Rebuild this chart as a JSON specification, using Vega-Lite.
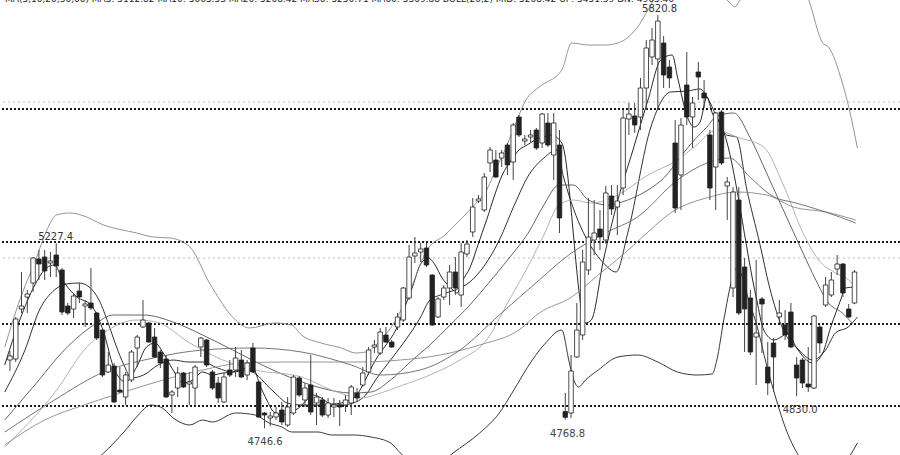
{
"$schema": "https://vega.github.io/schema/vega-lite/v6.json",
"width": 900, "height": 455, "padding": 0,
"autosize": {"type": "none"},
"background": "white",
"config": {"view": {"stroke": null}},
"datasets": {
"levels": [
{"p": 5576.6, "k": "dark"}, {"p": 5230.8, "k": "dark"}, {"p": 5017.6, "k": "dark"}, {"p": 4804.4, "k": "dark"},
{"p": 5594.8, "k": "light"}, {"p": 5189.2, "k": "light"}
],
"candles": [
{"i":0,"o":4924,"c":4934.4,"h":4947.4,"l":4895.4},
{"i":1,"o":4926.6,"c":5030.6,"h":5035.8,"l":4918.8},
{"i":2,"o":5056.6,"c":5064.4,"h":5152.8,"l":5046.2},
{"i":3,"o":5087.8,"c":5095.6,"h":5106,"l":5046.2},
{"i":4,"o":5124.2,"c":5189.2,"h":5191.8,"l":5100.8},
{"i":5,"o":5186.6,"c":5173.6,"h":5210,"l":5132},
{"i":6,"o":5191.8,"c":5155.4,"h":5210,"l":5132},
{"i":7,"o":5176.2,"c":5181.4,"h":5204.8,"l":5139.8},
{"i":8,"o":5197,"c":5168.4,"h":5227.4,"l":5139.8},
{"i":9,"o":5158,"c":5048.8,"h":5163.2,"l":5041},
{"i":10,"o":5064.4,"c":5046.2,"h":5072.2,"l":5041},
{"i":11,"o":5056.6,"c":5090.4,"h":5098.2,"l":5033.2},
{"i":12,"o":5103.4,"c":5087.8,"h":5124.2,"l":5072.2},
{"i":13,"o":5064.4,"c":5069.6,"h":5080,"l":5009.8},
{"i":14,"o":5072.2,"c":5059.2,"h":5163.2,"l":5054},
{"i":15,"o":5046.2,"c":4981.2,"h":5048.8,"l":4976},
{"i":16,"o":5002,"c":4885,"h":5004.6,"l":4879.8},
{"i":17,"o":4892.8,"c":4911,"h":4944.8,"l":4890.2},
{"i":18,"o":4908.4,"c":4814.8,"h":4916.2,"l":4812.2},
{"i":19,"o":4846,"c":4840.8,"h":4905.8,"l":4838.2},
{"i":20,"o":4827.8,"c":4885,"h":4892.8,"l":4807},
{"i":21,"o":4872,"c":4944.8,"h":4950,"l":4866.8},
{"i":22,"o":4955.2,"c":4983.8,"h":4989,"l":4905.8},
{"i":23,"o":5009.8,"c":5028,"h":5080,"l":5007.2},
{"i":24,"o":5020.2,"c":4970.8,"h":5022.8,"l":4968.2},
{"i":25,"o":4983.8,"c":4931.8,"h":5007.2,"l":4929.2},
{"i":26,"o":4944.8,"c":4916.2,"h":4950,"l":4903.2},
{"i":27,"o":4926.6,"c":4827.8,"h":4937,"l":4825.2},
{"i":28,"o":4833,"c":4840.8,"h":4846,"l":4786.2},
{"i":29,"o":4851.2,"c":4890.2,"h":4905.8,"l":4827.8},
{"i":30,"o":4890.2,"c":4853.8,"h":4892.8,"l":4851.2},
{"i":31,"o":4861.6,"c":4866.8,"h":4892.8,"l":4807},
{"i":32,"o":4851.2,"c":4905.8,"h":4911,"l":4807},
{"i":33,"o":4957.8,"c":4981.2,"h":4983.8,"l":4931.8},
{"i":34,"o":4976,"c":4911,"h":4978.6,"l":4905.8},
{"i":35,"o":4892.8,"c":4851.2,"h":4898,"l":4846},
{"i":36,"o":4864.2,"c":4825.2,"h":4879.8,"l":4812.2},
{"i":37,"o":4814.8,"c":4879.8,"h":4890.2,"l":4812.2},
{"i":38,"o":4898,"c":4885,"h":4924,"l":4879.8},
{"i":39,"o":4898,"c":4929.2,"h":4957.8,"l":4879.8},
{"i":40,"o":4924,"c":4879.8,"h":4950,"l":4877.2},
{"i":41,"o":4885,"c":4916.2,"h":4924,"l":4872},
{"i":42,"o":4955.2,"c":4892.8,"h":4968.2,"l":4890.2},
{"i":43,"o":4866.8,"c":4775.8,"h":4872,"l":4774},
{"i":44,"o":4786.2,"c":4781,"h":4788.8,"l":4746.6},
{"i":45,"o":4773.2,"c":4778.4,"h":4788.8,"l":4752},
{"i":46,"o":4775.8,"c":4786.2,"h":4801.8,"l":4768},
{"i":47,"o":4794,"c":4762.8,"h":4814.8,"l":4755},
{"i":48,"o":4755,"c":4801.8,"h":4827.8,"l":4750},
{"i":49,"o":4786.2,"c":4879.8,"h":4885,"l":4781},
{"i":50,"o":4877.2,"c":4833,"h":4882.4,"l":4827.8},
{"i":51,"o":4820,"c":4851.2,"h":4864.2,"l":4801.8},
{"i":52,"o":4859,"c":4788.8,"h":4937,"l":4781},
{"i":53,"o":4812.2,"c":4827.8,"h":4838.2,"l":4755},
{"i":54,"o":4820,"c":4781,"h":4827.8,"l":4775.8},
{"i":55,"o":4781,"c":4812.2,"h":4825.2,"l":4773.2},
{"i":56,"o":4801.8,"c":4807,"h":4825.2,"l":4775.8},
{"i":57,"o":4807,"c":4801.8,"h":4820,"l":4752.4},
{"i":58,"o":4807,"c":4820,"h":4833,"l":4788.8},
{"i":59,"o":4812.2,"c":4853.8,"h":4859,"l":4781},
{"i":60,"o":4838.2,"c":4825.2,"h":4851.2,"l":4814.8},
{"i":61,"o":4859,"c":4890.2,"h":4905.8,"l":4853.8},
{"i":62,"o":4892.8,"c":4950,"h":4957.8,"l":4885},
{"i":63,"o":4957.8,"c":4963,"h":4976,"l":4942.2},
{"i":64,"o":4942.2,"c":4996.8,"h":5007.2,"l":4937},
{"i":65,"o":4989,"c":4970.8,"h":5009.8,"l":4968.2},
{"i":66,"o":4970.8,"c":4957.8,"h":4976,"l":4955.2},
{"i":67,"o":5009.8,"c":5035.8,"h":5046.2,"l":5002},
{"i":68,"o":5028,"c":5111.2,"h":5113.8,"l":5022.8},
{"i":69,"o":5085.2,"c":5191.8,"h":5223,"l":5080},
{"i":70,"o":5194.4,"c":5202.2,"h":5243.8,"l":5176.2},
{"i":71,"o":5204.8,"c":5212.6,"h":5228.2,"l":5178.8},
{"i":72,"o":5215.2,"c":5171,"h":5228.2,"l":5165.8},
{"i":73,"o":5145,"c":5015,"h":5147,"l":5012.4},
{"i":74,"o":5035.8,"c":5082.6,"h":5087.8,"l":5033.2},
{"i":75,"o":5087.8,"c":5111.2,"h":5119,"l":5080},
{"i":76,"o":5111.2,"c":5152.8,"h":5171,"l":5067},
{"i":77,"o":5152.8,"c":5111.2,"h":5191.8,"l":5093},
{"i":78,"o":5093,"c":5204.8,"h":5228.2,"l":5061.8},
{"i":79,"o":5199.6,"c":5225.6,"h":5236,"l":5191.8},
{"i":80,"o":5256.8,"c":5321.8,"h":5345.2,"l":5243.8},
{"i":81,"o":5337.4,"c":5342.6,"h":5353,"l":5332.2},
{"i":82,"o":5314,"c":5399.8,"h":5410.2,"l":5308.8},
{"i":83,"o":5436.2,"c":5470,"h":5477.8,"l":5412.8},
{"i":84,"o":5444,"c":5399.8,"h":5470,"l":5397.2},
{"i":85,"o":5449.2,"c":5462.2,"h":5470,"l":5425.8},
{"i":86,"o":5483,"c":5431,"h":5488.2,"l":5405},
{"i":87,"o":5438.8,"c":5535,"h":5540.2,"l":5392},
{"i":88,"o":5555.8,"c":5509,"h":5561,"l":5503.8},
{"i":89,"o":5493.4,"c":5498.6,"h":5509,"l":5483},
{"i":90,"o":5503.8,"c":5509,"h":5522,"l":5490.8},
{"i":91,"o":5522,"c":5475.2,"h":5527.2,"l":5470},
{"i":92,"o":5488.2,"c":5563.6,"h":5566.2,"l":5475.2},
{"i":93,"o":5540.2,"c":5483,"h":5566.2,"l":5477.8},
{"i":94,"o":5457,"c":5540.2,"h":5566.2,"l":5392},
{"i":95,"o":5483,"c":5293.2,"h":5522,"l":5254.2},
{"i":96,"o":4790,"c":4775,"h":4838.2,"l":4768.8},
{"i":97,"o":4786.2,"c":4895.4,"h":4937,"l":4773.2},
{"i":98,"o":4931.8,"c":5002,"h":5072.2,"l":4929.2},
{"i":99,"o":4989,"c":5178.8,"h":5210,"l":4976},
{"i":100,"o":5158,"c":5243.8,"h":5345.2,"l":5145},
{"i":101,"o":5236,"c":5254.2,"h":5340,"l":5197},
{"i":102,"o":5264.6,"c":5243.8,"h":5314,"l":5210},
{"i":103,"o":5236,"c":5358.2,"h":5376.4,"l":5225.6},
{"i":104,"o":5350.4,"c":5316.6,"h":5379,"l":5301},
{"i":105,"o":5321.8,"c":5337.4,"h":5379,"l":5249},
{"i":106,"o":5371.2,"c":5553.2,"h":5574,"l":5353},
{"i":107,"o":5550.6,"c":5563.6,"h":5592.2,"l":5509},
{"i":108,"o":5558.4,"c":5535,"h":5592.2,"l":5514.2},
{"i":109,"o":5555.8,"c":5631.2,"h":5657.2,"l":5522},
{"i":110,"o":5631.2,"c":5735.2,"h":5756,"l":5574},
{"i":111,"o":5711.8,"c":5756,"h":5787.2,"l":5691},
{"i":112,"o":5706.6,"c":5805.4,"h":5820.8,"l":5574},
{"i":113,"o":5748.2,"c":5665,"h":5766.4,"l":5631.2},
{"i":114,"o":5685.8,"c":5657.2,"h":5704,"l":5631.2},
{"i":115,"o":5488.2,"c":5319.2,"h":5548,"l":5306.2},
{"i":116,"o":5405,"c":5535,"h":5553.2,"l":5314},
{"i":117,"o":5639,"c":5555.8,"h":5724.8,"l":5535},
{"i":118,"o":5555.8,"c":5592.2,"h":5607.8,"l":5475.2},
{"i":119,"o":5672.8,"c":5659.8,"h":5698.8,"l":5600},
{"i":120,"o":5618.2,"c":5605.2,"h":5652,"l":5579.2},
{"i":121,"o":5509,"c":5371.2,"h":5522,"l":5340},
{"i":122,"o":5425.8,"c":5566.2,"h":5568.8,"l":5314},
{"i":123,"o":5568.8,"c":5436.2,"h":5574,"l":5431},
{"i":124,"o":5376.4,"c":5386.8,"h":5399.8,"l":5288},
{"i":125,"o":5111.2,"c":5360.8,"h":5373.8,"l":5087.8},
{"i":126,"o":5340,"c":5046.2,"h":5373.8,"l":5041},
{"i":127,"o":5165.8,"c":5056.6,"h":5189.2,"l":4944.8},
{"i":128,"o":5085.2,"c":4944.8,"h":5106,"l":4937},
{"i":129,"o":4983.8,"c":4994.2,"h":5184,"l":4859},
{"i":130,"o":5082.6,"c":5069.6,"h":5087.8,"l":4942.2},
{"i":131,"o":4905.8,"c":4864.2,"h":4970.8,"l":4833},
{"i":132,"o":4968.2,"c":4931.8,"h":4981.2,"l":4840.8},
{"i":133,"o":5035.8,"c":5046.2,"h":5080,"l":5020.2},
{"i":134,"o":5015,"c":4989,"h":5054,"l":4976},
{"i":135,"o":5048.8,"c":4957.8,"h":5072.2,"l":4955.2},
{"i":136,"o":4911,"c":4877.2,"h":4931.8,"l":4830},
{"i":137,"o":4924,"c":4864.2,"h":4929.2,"l":4851.2},
{"i":138,"o":4861.6,"c":4853.8,"h":4957.8,"l":4840.8},
{"i":139,"o":4851.2,"c":5038.4,"h":5041,"l":4848.6},
{"i":140,"o":5009.8,"c":4968.2,"h":5015,"l":4942.2},
{"i":141,"o":5067,"c":5119,"h":5139.8,"l":5061.8},
{"i":142,"o":5093,"c":5132,"h":5152.8,"l":5087.8},
{"i":143,"o":5160.6,"c":5173.6,"h":5197,"l":5145},
{"i":144,"o":5173.6,"c":5098.2,"h":5176.2,"l":5087.8},
{"i":145,"o":5056.6,"c":5035.8,"h":5069.6,"l":5033.2},
{"i":146,"o":5072.2,"c":5152.8,"h":5158,"l":5069.6}
],
"lines": [
{"s":"MA5","i":-0.9,"p":4911},{"s":"MA5","i":1.7,"p":5028},{"s":"MA5","i":4.3,"p":5119},{"s":"MA5","i":6.3,"p":5163.2},{"s":"MA5","i":7.7,"p":5171},{"s":"MA5","i":9.1,"p":5132},{"s":"MA5","i":11.6,"p":5087.8},{"s":"MA5","i":14.0,"p":5067},{"s":"MA5","i":16.2,"p":4996.8},{"s":"MA5","i":17.9,"p":4905.8},{"s":"MA5","i":20.0,"p":4866.8},{"s":"MA5","i":21.9,"p":4905.8},{"s":"MA5","i":23.6,"p":4957.8},{"s":"MA5","i":25.1,"p":4968.2},{"s":"MA5","i":26.5,"p":4942.2},{"s":"MA5","i":28.2,"p":4898},{"s":"MA5","i":29.9,"p":4864.2},{"s":"MA5","i":31.6,"p":4872},{"s":"MA5","i":33.3,"p":4892.8},{"s":"MA5","i":35.0,"p":4885},{"s":"MA5","i":36.8,"p":4890.2},{"s":"MA5","i":38.5,"p":4892.8},{"s":"MA5","i":41.0,"p":4903.2},{"s":"MA5","i":42.2,"p":4898},{"s":"MA5","i":43.2,"p":4859},{"s":"MA5","i":44.4,"p":4820},{"s":"MA5","i":45.6,"p":4788.8},{"s":"MA5","i":47.0,"p":4781},{"s":"MA5","i":48.7,"p":4788.8},{"s":"MA5","i":49.9,"p":4799.2},{"s":"MA5","i":51.3,"p":4820},{"s":"MA5","i":52.5,"p":4833},{"s":"MA5","i":53.8,"p":4825.2},{"s":"MA5","i":55.6,"p":4809.6},{"s":"MA5","i":57.3,"p":4812.2},{"s":"MA5","i":58.6,"p":4820},{"s":"MA5","i":59.8,"p":4830.4},{"s":"MA5","i":61.0,"p":4859},{"s":"MA5","i":62.1,"p":4892.8},{"s":"MA5","i":63.2,"p":4924},{"s":"MA5","i":65.0,"p":4963},{"s":"MA5","i":66.7,"p":5002},{"s":"MA5","i":68.4,"p":5067},{"s":"MA5","i":69.7,"p":5119},{"s":"MA5","i":70.9,"p":5171},{"s":"MA5","i":72.3,"p":5189.2},{"s":"MA5","i":73.5,"p":5171},{"s":"MA5","i":74.7,"p":5137.2},{"s":"MA5","i":76.1,"p":5113.8},{"s":"MA5","i":77.3,"p":5098.2},{"s":"MA5","i":78.3,"p":5132},{"s":"MA5","i":79.5,"p":5163.2},{"s":"MA5","i":80.9,"p":5223},{"s":"MA5","i":82.4,"p":5288},{"s":"MA5","i":83.8,"p":5353},{"s":"MA5","i":85.1,"p":5405},{"s":"MA5","i":86.7,"p":5444},{"s":"MA5","i":88.0,"p":5470},{"s":"MA5","i":89.4,"p":5483},{"s":"MA5","i":90.8,"p":5496},{"s":"MA5","i":92.3,"p":5503.8},{"s":"MA5","i":93.5,"p":5509},{"s":"MA5","i":95.4,"p":5488.2},{"s":"MA5","i":99.5,"p":5020.2},{"s":"MA5","i":100.5,"p":5028},{"s":"MA5","i":102.6,"p":5184},{"s":"MA5","i":105.1,"p":5340},{"s":"MA5","i":107.7,"p":5470},{"s":"MA5","i":110.3,"p":5600},{"s":"MA5","i":112.5,"p":5704},{"s":"MA5","i":114.5,"p":5717},{"s":"MA5","i":115.4,"p":5659.8},{"s":"MA5","i":117.1,"p":5555.8},{"s":"MA5","i":118.3,"p":5529.8},{"s":"MA5","i":119.3,"p":5542.8},{"s":"MA5","i":120.5,"p":5607.8},{"s":"MA5","i":121.4,"p":5566.2},{"s":"MA5","i":122.7,"p":5542.8},{"s":"MA5","i":123.4,"p":5516.8},{"s":"MA5","i":129.1,"p":5080},{"s":"MA5","i":130.3,"p":5002},{"s":"MA5","i":132.1,"p":4976},{"s":"MA5","i":133.3,"p":4983.8},{"s":"MA5","i":134.5,"p":4994.2},{"s":"MA5","i":135.9,"p":4957.8},{"s":"MA5","i":138.8,"p":4916.2},{"s":"MA5","i":140.5,"p":4942.2},{"s":"MA5","i":141.9,"p":5009.8},{"s":"MA5","i":143.6,"p":5080},{"s":"MA5","i":144.4,"p":5111.2},{"s":"MA5","i":146.2,"p":5113.8},
{"s":"MA10","i":-0.9,"p":4840.8},{"s":"MA10","i":2.6,"p":4950},{"s":"MA10","i":5.1,"p":5054},{"s":"MA10","i":7.7,"p":5106},{"s":"MA10","i":9.7,"p":5121.6},{"s":"MA10","i":12.0,"p":5124.2},{"s":"MA10","i":13.7,"p":5113.8},{"s":"MA10","i":15.4,"p":5080},{"s":"MA10","i":17.1,"p":5015},{"s":"MA10","i":18.3,"p":4963},{"s":"MA10","i":19.7,"p":4911},{"s":"MA10","i":21.0,"p":4877.2},{"s":"MA10","i":23.1,"p":4885},{"s":"MA10","i":25.6,"p":4911},{"s":"MA10","i":28.2,"p":4924},{"s":"MA10","i":30.8,"p":4918.8},{"s":"MA10","i":33.3,"p":4918.8},{"s":"MA10","i":35.9,"p":4903.2},{"s":"MA10","i":38.5,"p":4892.8},{"s":"MA10","i":41.0,"p":4898},{"s":"MA10","i":42.7,"p":4885},{"s":"MA10","i":44.4,"p":4859},{"s":"MA10","i":46.2,"p":4833},{"s":"MA10","i":47.9,"p":4812.2},{"s":"MA10","i":50.4,"p":4807},{"s":"MA10","i":53.8,"p":4807},{"s":"MA10","i":57.3,"p":4807},{"s":"MA10","i":59.8,"p":4814.8},{"s":"MA10","i":61.5,"p":4833},{"s":"MA10","i":63.2,"p":4872},{"s":"MA10","i":65.8,"p":4924},{"s":"MA10","i":68.4,"p":4976},{"s":"MA10","i":70.9,"p":5033.2},{"s":"MA10","i":72.6,"p":5080},{"s":"MA10","i":74.4,"p":5093},{"s":"MA10","i":76.9,"p":5106},{"s":"MA10","i":79.5,"p":5126.8},{"s":"MA10","i":82.1,"p":5171},{"s":"MA10","i":84.6,"p":5236},{"s":"MA10","i":87.2,"p":5327},{"s":"MA10","i":89.7,"p":5405},{"s":"MA10","i":92.3,"p":5449.2},{"s":"MA10","i":94.5,"p":5470},{"s":"MA10","i":95.7,"p":5399.8},{"s":"MA10","i":102.6,"p":5176.2},{"s":"MA10","i":104.8,"p":5152.8},{"s":"MA10","i":106.8,"p":5254.2},{"s":"MA10","i":110.8,"p":5529.8},{"s":"MA10","i":114.2,"p":5620.8},{"s":"MA10","i":117.1,"p":5623.4},{"s":"MA10","i":119.3,"p":5628.6},{"s":"MA10","i":120.5,"p":5607.8},{"s":"MA10","i":122.2,"p":5555.8},{"s":"MA10","i":123.9,"p":5509},{"s":"MA10","i":125.6,"p":5503.8},{"s":"MA10","i":127.4,"p":5366},{"s":"MA10","i":129.6,"p":5228.2},{"s":"MA10","i":131.3,"p":5113.8},{"s":"MA10","i":133.7,"p":5002},{"s":"MA10","i":136.4,"p":4950},{"s":"MA10","i":138.8,"p":4924},{"s":"MA10","i":141.0,"p":4950},{"s":"MA10","i":142.7,"p":4994.2},{"s":"MA10","i":144.9,"p":5009.8},{"s":"MA10","i":146.5,"p":5035.8},
{"s":"UB","i":-0.9,"p":4957.8},{"s":"UB","i":1.7,"p":5080},{"s":"UB","i":4.3,"p":5178.8},{"s":"UB","i":6.8,"p":5275},{"s":"UB","i":8.0,"p":5301},{"s":"UB","i":10.3,"p":5306.2},{"s":"UB","i":12.3,"p":5301},{"s":"UB","i":16.2,"p":5275},{"s":"UB","i":21.9,"p":5254.2},{"s":"UB","i":24.8,"p":5243.8},{"s":"UB","i":27.7,"p":5241.2},{"s":"UB","i":31.1,"p":5217.8},{"s":"UB","i":34.5,"p":5124.2},{"s":"UB","i":39.0,"p":5028},{"s":"UB","i":41.4,"p":5007.2},{"s":"UB","i":45.8,"p":5020.2},{"s":"UB","i":48.7,"p":5015},{"s":"UB","i":50.4,"p":4989},{"s":"UB","i":53.8,"p":4968.2},{"s":"UB","i":57.3,"p":4955.2},{"s":"UB","i":59.8,"p":4942.2},{"s":"UB","i":61.5,"p":4944.8},{"s":"UB","i":64.1,"p":4976},{"s":"UB","i":66.7,"p":5028},{"s":"UB","i":69.2,"p":5106},{"s":"UB","i":72.1,"p":5210},{"s":"UB","i":75.2,"p":5249},{"s":"UB","i":77.8,"p":5288},{"s":"UB","i":80.3,"p":5327},{"s":"UB","i":82.4,"p":5366},{"s":"UB","i":84.1,"p":5423.2},{"s":"UB","i":85.8,"p":5477.8},{"s":"UB","i":87.5,"p":5542.8},{"s":"UB","i":89.2,"p":5600},{"s":"UB","i":91.5,"p":5633.8},{"s":"UB","i":95.4,"p":5678},{"s":"UB","i":97.1,"p":5748.2},{"s":"UB","i":100.0,"p":5743},{"s":"UB","i":102.9,"p":5743},{"s":"UB","i":105.1,"p":5748.2},{"s":"UB","i":108.5,"p":5789.8},{"s":"UB","i":110.3,"p":5834},{"s":"UB","i":112.3,"p":5886},{"s":"UB","i":117.1,"p":5951},{"s":"UB","i":121.4,"p":5899},{"s":"UB","i":124.5,"p":5852.2},{"s":"UB","i":125.3,"p":5841.8},{"s":"UB","i":126.0,"p":5854.8},{"s":"UB","i":130.8,"p":5964},{"s":"UB","i":135.9,"p":5938},{"s":"UB","i":138.1,"p":5860},{"s":"UB","i":140.5,"p":5748.2},{"s":"UB","i":141.5,"p":5737.8},{"s":"UB","i":143.9,"p":5644.2},{"s":"UB","i":145.0,"p":5581.8},{"s":"UB","i":146.5,"p":5475.2},
{"s":"LB","i":9.4,"p":4612},{"s":"LB","i":16.2,"p":4682.2},{"s":"LB","i":19.7,"p":4736.8},{"s":"LB","i":22.2,"p":4781},{"s":"LB","i":24.3,"p":4807},{"s":"LB","i":26.0,"p":4801.8},{"s":"LB","i":28.7,"p":4768},{"s":"LB","i":31.1,"p":4755},{"s":"LB","i":33.3,"p":4768},{"s":"LB","i":35.0,"p":4762.8},{"s":"LB","i":39.0,"p":4786.2},{"s":"LB","i":42.4,"p":4781},{"s":"LB","i":44.8,"p":4760.2},{"s":"LB","i":47.0,"p":4749.8},{"s":"LB","i":48.7,"p":4736.8},{"s":"LB","i":53.3,"p":4736.8},{"s":"LB","i":55.6,"p":4729},{"s":"LB","i":59.5,"p":4729},{"s":"LB","i":62.4,"p":4723.8},{"s":"LB","i":65.8,"p":4708.2},{"s":"LB","i":67.5,"p":4682.2},{"s":"LB","i":71.8,"p":4625},{"s":"LB","i":76.6,"p":4682.2},{"s":"LB","i":81.2,"p":4734.2},{"s":"LB","i":84.6,"p":4786.2},{"s":"LB","i":86.8,"p":4838.2},{"s":"LB","i":90.3,"p":4924},{"s":"LB","i":92.6,"p":4968.2},{"s":"LB","i":95.4,"p":5002},{"s":"LB","i":96.6,"p":4924},{"s":"LB","i":97.3,"p":4879.8},{"s":"LB","i":98.3,"p":4853.8},{"s":"LB","i":99.5,"p":4872},{"s":"LB","i":101.7,"p":4898},{"s":"LB","i":105.1,"p":4931.8},{"s":"LB","i":108.5,"p":4937},{"s":"LB","i":112.0,"p":4918.8},{"s":"LB","i":115.4,"p":4892.8},{"s":"LB","i":118.8,"p":4885},{"s":"LB","i":121.4,"p":4887.6},{"s":"LB","i":122.2,"p":4924},{"s":"LB","i":123.4,"p":5028},{"s":"LB","i":124.8,"p":5132},{"s":"LB","i":125.6,"p":5163.2},{"s":"LB","i":126.5,"p":5145},{"s":"LB","i":127.7,"p":5080},{"s":"LB","i":129.1,"p":5015},{"s":"LB","i":130.8,"p":4911},{"s":"LB","i":132.5,"p":4820},{"s":"LB","i":134.2,"p":4742},{"s":"LB","i":136.8,"p":4664},{"s":"LB","i":141.0,"p":4599},{"s":"LB","i":145.3,"p":4677},{"s":"LB","i":146.5,"p":4708.2},
{"s":"T1","i":-0.9,"p":4768},{"s":"T1","i":4.3,"p":4859},{"s":"T1","i":9.4,"p":4950},{"s":"T1","i":14.5,"p":5015},{"s":"T1","i":17.9,"p":5041},{"s":"T1","i":23.1,"p":5041},{"s":"T1","i":28.2,"p":5022.8},{"s":"T1","i":33.3,"p":4989},{"s":"T1","i":38.5,"p":4950},{"s":"T1","i":43.6,"p":4911},{"s":"T1","i":48.7,"p":4877.2},{"s":"T1","i":53.8,"p":4851.2},{"s":"T1","i":59.0,"p":4838.2},{"s":"T1","i":62.4,"p":4840.8},{"s":"T1","i":65.8,"p":4872},{"s":"T1","i":69.2,"p":4918.8},{"s":"T1","i":72.6,"p":4963},{"s":"T1","i":76.1,"p":5015},{"s":"T1","i":79.5,"p":5067},{"s":"T1","i":82.9,"p":5126.8},{"s":"T1","i":86.3,"p":5189.2},{"s":"T1","i":89.7,"p":5256.8},{"s":"T1","i":92.3,"p":5327},{"s":"T1","i":94.9,"p":5379},{"s":"T1","i":97.4,"p":5379},{"s":"T1","i":100.0,"p":5340},{"s":"T1","i":103.4,"p":5327},{"s":"T1","i":106.8,"p":5340},{"s":"T1","i":110.3,"p":5366},{"s":"T1","i":113.2,"p":5399.8},{"s":"T1","i":115.9,"p":5451.8},{"s":"T1","i":118.3,"p":5496},{"s":"T1","i":120.5,"p":5529.8},{"s":"T1","i":122.2,"p":5558.4},{"s":"T1","i":125.1,"p":5566.2},{"s":"T1","i":127.9,"p":5503.8},{"s":"T1","i":130.8,"p":5410.2},{"s":"T1","i":133.7,"p":5314},{"s":"T1","i":137.1,"p":5202.2},{"s":"T1","i":139.3,"p":5132},{"s":"T1","i":141.5,"p":5072.2},{"s":"T1","i":143.9,"p":5046.2},{"s":"T1","i":145.6,"p":5020.2},
{"s":"T2","i":-0.9,"p":4697.8},{"s":"T2","i":7.7,"p":4838.2},{"s":"T2","i":13.3,"p":4957.8},{"s":"T2","i":16.2,"p":4994.2},{"s":"T2","i":21.9,"p":5028},{"s":"T2","i":25.3,"p":5022.8},{"s":"T2","i":31.1,"p":4968.2},{"s":"T2","i":36.8,"p":4924},{"s":"T2","i":42.4,"p":4898},{"s":"T2","i":50.4,"p":4879.8},{"s":"T2","i":55.6,"p":4846},{"s":"T2","i":60.7,"p":4825.2},{"s":"T2","i":64.1,"p":4838.2},{"s":"T2","i":67.5,"p":4856.4},{"s":"T2","i":72.6,"p":4885},{"s":"T2","i":77.8,"p":4924},{"s":"T2","i":82.4,"p":4976},{"s":"T2","i":86.3,"p":5080},{"s":"T2","i":89.7,"p":5171},{"s":"T2","i":92.3,"p":5249},{"s":"T2","i":94.9,"p":5327},{"s":"T2","i":97.4,"p":5340},{"s":"T2","i":100.5,"p":5332.2},{"s":"T2","i":105.1,"p":5353},{"s":"T2","i":110.3,"p":5405},{"s":"T2","i":115.4,"p":5444},{"s":"T2","i":118.3,"p":5477.8},{"s":"T2","i":122.2,"p":5522},{"s":"T2","i":125.6,"p":5503.8},{"s":"T2","i":130.3,"p":5477.8},{"s":"T2","i":133.7,"p":5379},{"s":"T2","i":137.1,"p":5254.2},{"s":"T2","i":139.8,"p":5184},{"s":"T2","i":142.7,"p":5150.2},{"s":"T2","i":145.0,"p":5132},{"s":"T2","i":146.2,"p":5113.8},
{"s":"T3","i":-0.9,"p":4703},{"s":"T3","i":6.0,"p":4768},{"s":"T3","i":12.8,"p":4807},{"s":"T3","i":19.7,"p":4840.8},{"s":"T3","i":26.5,"p":4872},{"s":"T3","i":33.3,"p":4898},{"s":"T3","i":40.2,"p":4916.2},{"s":"T3","i":47.0,"p":4918.8},{"s":"T3","i":53.8,"p":4918.8},{"s":"T3","i":60.7,"p":4918.8},{"s":"T3","i":67.5,"p":4924},{"s":"T3","i":74.4,"p":4937},{"s":"T3","i":81.2,"p":4963},{"s":"T3","i":88.0,"p":5002},{"s":"T3","i":91.5,"p":5046.2},{"s":"T3","i":97.1,"p":5087.8},{"s":"T3","i":101.7,"p":5145},{"s":"T3","i":106.3,"p":5202.2},{"s":"T3","i":110.3,"p":5256.8},{"s":"T3","i":114.2,"p":5306.2},{"s":"T3","i":121.0,"p":5347.8},{"s":"T3","i":125.6,"p":5360.8},{"s":"T3","i":130.8,"p":5353},{"s":"T3","i":135.4,"p":5321.8},{"s":"T3","i":141.0,"p":5308.8},{"s":"T3","i":146.2,"p":5288},
{"s":"T4","i":-0.9,"p":4736.8},{"s":"T4","i":7.7,"p":4820},{"s":"T4","i":16.2,"p":4892.8},{"s":"T4","i":24.8,"p":4929.2},{"s":"T4","i":33.3,"p":4950},{"s":"T4","i":41.9,"p":4955.2},{"s":"T4","i":50.4,"p":4944.8},{"s":"T4","i":59.0,"p":4911},{"s":"T4","i":64.1,"p":4885},{"s":"T4","i":70.9,"p":4898},{"s":"T4","i":77.8,"p":4950},{"s":"T4","i":84.6,"p":5041},{"s":"T4","i":91.5,"p":5132},{"s":"T4","i":96.6,"p":5197},{"s":"T4","i":102.9,"p":5254.2},{"s":"T4","i":108.5,"p":5295.8},{"s":"T4","i":115.4,"p":5392},{"s":"T4","i":120.5,"p":5436.2},{"s":"T4","i":124.4,"p":5449.2},{"s":"T4","i":127.9,"p":5399.8},{"s":"T4","i":132.1,"p":5347.8},{"s":"T4","i":135.9,"p":5332.2},{"s":"T4","i":141.0,"p":5308.8},{"s":"T4","i":146.2,"p":5280.2}
],
"labels": [
{"i":112.3,"p":5820.8,"t":"5820.8","k":"high"},
{"i":7.9,"p":5227.4,"t":"5227.4","k":"high"},
{"i":44.1,"p":4746.6,"t":"4746.6","k":"low"},
{"i":96.4,"p":4768.8,"t":"4768.8","k":"low"},
{"i":136.6,"p":4830.0,"t":"4830.0","k":"low"},
{"i":-0.85,"p":5860,"t":"MA(5,10,20,30,60)  MA5: 5112.82  MA10: 5065.53  MA20: 5208.42  MA30: 5250.71  MA60: 5309.88  BOLL(20,2)  MID: 5208.42  UP: 5451.39  DN: 4965.46","k":"legend"}
]
},
"layer": [
{"data": {"name": "levels"}, "transform": [{"filter": "datum.k == 'light'"}],
 "mark": {"type": "rule", "stroke": "#bbbbbb", "strokeWidth": 1, "strokeDash": [2, 3]},
 "encoding": {"y": {"field": "p", "type": "quantitative", "scale": {"domain": [4677, 5860], "nice": false, "zero": false}, "axis": null}}},
{"data": {"name": "levels"}, "transform": [{"filter": "datum.k == 'dark'"}],
 "mark": {"type": "rule", "stroke": "#1a1a1a", "strokeWidth": 2.2, "strokeDash": [2, 2]},
 "encoding": {"y": {"field": "p", "type": "quantitative", "scale": {"domain": [4677, 5860], "nice": false, "zero": false}, "axis": null}}},
{"data": {"name": "lines"},
 "mark": {"type": "line", "clip": true, "interpolate": "monotone"},
 "encoding": {
  "x": {"field": "i", "type": "quantitative", "scale": {"domain": [-0.855, 153], "nice": false, "zero": false}, "axis": null},
  "y": {"field": "p", "type": "quantitative", "scale": {"domain": [4677, 5860], "nice": false, "zero": false}, "axis": null},
  "color": {"field": "s", "type": "nominal", "legend": null, "scale": {"domain": ["T2", "T3", "T4", "T1", "UB", "LB", "MA10", "MA5"], "range": ["#aaaaaa", "#8a8a8a", "#666666", "#555555", "#888888", "#222222", "#1a1a1a", "#111111"]}},
  "strokeWidth": {"field": "s", "type": "nominal", "legend": null, "scale": {"domain": ["T2", "T3", "T4", "T1", "UB", "LB", "MA10", "MA5"], "range": [0.9, 0.9, 0.9, 0.9, 0.9, 1.1, 1.5, 1.6]}}
 }},
{"data": {"name": "candles"},
 "mark": {"type": "rule", "stroke": "#444444", "strokeWidth": 1},
 "encoding": {
  "x": {"field": "i", "type": "quantitative", "scale": {"domain": [-0.855, 153], "nice": false, "zero": false}, "axis": null},
  "y": {"field": "l", "type": "quantitative", "scale": {"domain": [4677, 5860], "nice": false, "zero": false}, "axis": null},
  "y2": {"field": "h"}
 }},
{"data": {"name": "candles"},
 "mark": {"type": "bar", "size": 4.5, "stroke": "#222222", "strokeWidth": 0.8},
 "encoding": {
  "x": {"field": "i", "type": "quantitative", "scale": {"domain": [-0.855, 153], "nice": false, "zero": false}, "axis": null},
  "y": {"field": "o", "type": "quantitative", "scale": {"domain": [4677, 5860], "nice": false, "zero": false}, "axis": null},
  "y2": {"field": "c"},
  "fill": {"condition": {"test": "datum.c >= datum.o", "value": "#ffffff"}, "value": "#222222"}
 }},
{"data": {"name": "labels"}, "transform": [{"filter": "datum.k == 'high'"}],
 "mark": {"type": "text", "font": "DejaVu Sans", "fontSize": 10, "baseline": "bottom", "align": "center", "dy": -1, "color": "#333333"},
 "encoding": {
  "x": {"field": "i", "type": "quantitative", "scale": {"domain": [-0.855, 153], "nice": false, "zero": false}, "axis": null},
  "y": {"field": "p", "type": "quantitative", "scale": {"domain": [4677, 5860], "nice": false, "zero": false}, "axis": null},
  "text": {"field": "t"}
 }},
{"data": {"name": "labels"}, "transform": [{"filter": "datum.k == 'low'"}],
 "mark": {"type": "text", "font": "DejaVu Sans", "fontSize": 10, "baseline": "top", "align": "center", "dy": 9, "color": "#444444"},
 "encoding": {
  "x": {"field": "i", "type": "quantitative", "scale": {"domain": [-0.855, 153], "nice": false, "zero": false}, "axis": null},
  "y": {"field": "p", "type": "quantitative", "scale": {"domain": [4677, 5860], "nice": false, "zero": false}, "axis": null},
  "text": {"field": "t"}
 }},
{"data": {"name": "labels"}, "transform": [{"filter": "datum.k == 'legend'"}],
 "mark": {"type": "text", "font": "DejaVu Sans", "fontSize": 9, "baseline": "middle", "align": "left", "dy": -1, "color": "#222222"},
 "encoding": {
  "x": {"field": "i", "type": "quantitative", "scale": {"domain": [-0.855, 153], "nice": false, "zero": false}, "axis": null},
  "y": {"field": "p", "type": "quantitative", "scale": {"domain": [4677, 5860], "nice": false, "zero": false}, "axis": null},
  "text": {"field": "t"}
 }}
]
}
